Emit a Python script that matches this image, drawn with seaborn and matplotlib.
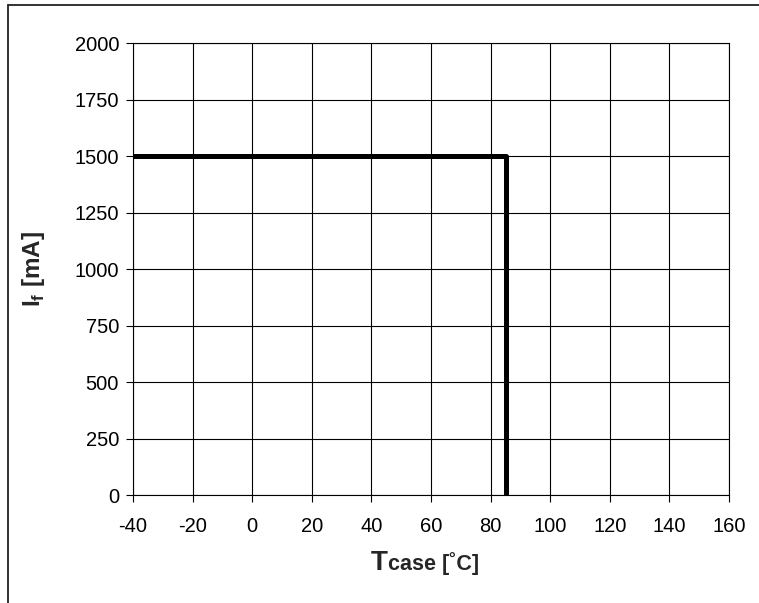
import matplotlib
matplotlib.use('Agg')
import matplotlib.pyplot as plt
import seaborn as sns
import pandas as pd
from matplotlib.lines import Line2D
from matplotlib.offsetbox import TextArea, HPacker, AnchoredOffsetbox

# data
t_case = [-40, 85, 85]
i_f = [1500, 1500, 0]
x_ticks = [-40, -20, 0, 20, 40, 60, 80, 100, 120, 140, 160]
y_ticks = [0, 250, 500, 750, 1000, 1250, 1500, 1750, 2000]

sns.set_style('white')
plt.rcParams['font.family'] = ['Liberation Sans', 'DejaVu Sans']
plt.rcParams['axes.unicode_minus'] = False
plt.rcParams['mathtext.fontset'] = 'custom'
plt.rcParams['mathtext.rm'] = 'Liberation Sans'
plt.rcParams['mathtext.bf'] = 'Liberation Sans:bold'

df = pd.DataFrame({'T': t_case, 'I': i_f})

fig = plt.figure(figsize=(7.59, 6.03), dpi=100)
ax = fig.add_axes([0.1752, 0.1791, 0.7853, 0.7488])

sns.lineplot(data=df, x='T', y='I', sort=False, estimator=None,
             color='black', linewidth=3.6, ax=ax, zorder=3)

ax.set_xlim(-40, 160)
ax.set_ylim(0, 2000)
ax.set_xticks(x_ticks)
ax.set_yticks(y_ticks)
ax.grid(True, color='black', linewidth=0.8)
for s in ax.spines.values():
    s.set_color('black')
    s.set_linewidth(0.8)
ax.tick_params(axis='both', direction='out', length=5, width=0.8,
               color='black', labelsize=14.5, labelcolor='black')
ax.tick_params(axis='x', pad=11, bottom=True)
ax.tick_params(axis='y', pad=5, left=True)

# y label with subscript f
ax.set_ylabel(r'$\mathbf{I}_\mathbf{f}$ [mA]', fontsize=17.5, fontweight='bold')
ax.yaxis.set_label_coords(-0.144, 0.5)
ax.set_xlabel('')

# x label: big T, smaller "case [˚C]"
lab = HPacker(children=[TextArea('T', textprops=dict(size=20, weight='bold')),
                        TextArea('case [˚C]', textprops=dict(size=15.5, weight='bold'))],
              align='baseline', pad=0, sep=0)
box = AnchoredOffsetbox(loc='center', child=lab, frameon=False, pad=0, borderpad=0,
                        bbox_to_anchor=(0.56, 0.066), bbox_transform=fig.transFigure)
fig.add_artist(box)

# outer frame (left and top edges)
fig.add_artist(Line2D([0.0105, 0.0105], [0, 0.9917], transform=fig.transFigure,
                      color='#222222', linewidth=1.3))
fig.add_artist(Line2D([0.0105, 1.0], [0.9917, 0.9917], transform=fig.transFigure,
                      color='#222222', linewidth=1.3))

fig.savefig('out.png', dpi=100)
